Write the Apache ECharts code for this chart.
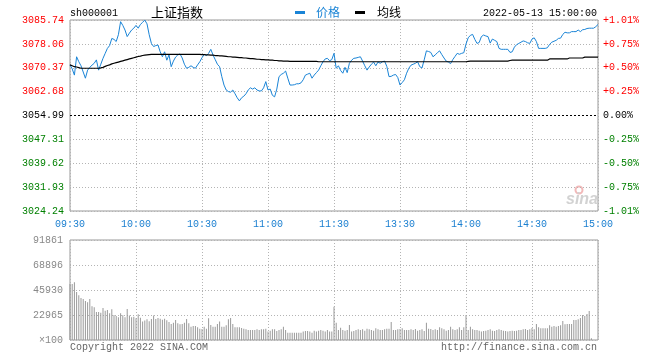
<!DOCTYPE html>
<html><head><meta charset="utf-8">
<script src="https://cdn.jsdelivr.net/npm/echarts@6/dist/echarts.min.js"></script>
<style>html,body{margin:0;padding:0;background:#fff}#c{width:660px;height:360px}</style>
</head><body><div id="c"></div>
<script>
const prevClose = 3054.99;
const priceMin = 3024.24, priceMax = 3085.74;
const volMax = 91861;
const priceTickLabels = ['3024.24','3031.93','3039.62','3047.31','3054.99','3062.68','3070.37','3078.06','3085.74'];
const pctTickLabels = ['-1.01%','-0.75%','-0.50%','-0.25%','0.00%','+0.25%','+0.50%','+0.75%','+1.01%'];
const volTickLabels = ['\u00d7100','22965','45930','68896','91861'];

const price = [
3071.3,3070.0,3068.0,3073.9,3072.3,3071.0,3069.0,3067.0,3069.6,3070.5,
3071.2,3071.8,3072.9,3069.6,3071.5,3073.4,3075.0,3076.6,3077.5,3079.8,
3079.5,3078.8,3081.0,3085.2,3084.0,3082.5,3080.4,3081.5,3082.5,3083.1,
3084.0,3083.1,3084.3,3085.0,3085.7,3084.5,3081.0,3078.2,3077.2,3077.5,
3077.7,3075.5,3073.9,3075.5,3072.8,3074.5,3070.7,3072.5,3073.8,3074.5,
3074.8,3073.5,3071.5,3070.2,3070.5,3071.0,3070.5,3070.2,3071.3,3072.3,
3073.6,3074.7,3074.3,3075.0,3076.3,3074.5,3073.0,3071.5,3070.7,3067.5,
3064.8,3063.2,3062.7,3062.5,3063.2,3062.0,3060.7,3059.7,3060.7,3061.2,
3062.0,3063.2,3063.9,3063.5,3063.9,3063.2,3062.9,3062.9,3063.9,3065.9,
3063.2,3063.5,3061.5,3061.0,3063.5,3067.5,3068.2,3068.6,3069.3,3067.0,
3064.8,3064.8,3064.9,3065.2,3065.2,3065.5,3066.5,3068.0,3068.3,3068.6,
3067.0,3068.0,3068.8,3069.6,3071.0,3072.3,3073.2,3073.4,3072.6,3073.0,
3075.0,3070.2,3071.0,3069.5,3068.6,3070.5,3068.8,3071.8,3072.8,3073.4,
3073.5,3073.7,3073.9,3072.5,3071.0,3069.6,3070.6,3071.5,3072.2,3071.0,
3072.2,3071.8,3072.3,3072.5,3070.8,3067.5,3067.6,3068.0,3068.2,3067.2,
3064.8,3065.6,3066.5,3068.6,3070.2,3071.2,3071.5,3071.8,3072.3,3070.7,
3070.3,3072.9,3075.8,3075.6,3075.3,3073.9,3074.5,3075.2,3075.8,3074.6,
3073.5,3072.5,3072.2,3071.7,3073.0,3074.0,3075.0,3074.7,3075.0,3075.2,
3078.0,3080.0,3080.8,3081.1,3079.5,3078.2,3078.5,3080.4,3080.9,3080.6,
3080.4,3078.3,3079.6,3079.2,3078.8,3076.6,3076.3,3076.3,3076.3,3076.3,
3075.3,3075.5,3077.0,3077.8,3078.2,3078.6,3079.0,3078.8,3078.4,3078.2,
3079.6,3080.0,3078.8,3076.6,3076.6,3076.6,3076.6,3076.8,3077.9,3078.6,
3078.9,3079.2,3079.8,3079.9,3081.1,3081.8,3081.6,3081.6,3082.0,3082.0,
3082.0,3082.5,3082.0,3082.6,3082.7,3083.0,3083.1,3083.1,3083.1,3083.6,
3084.3
];

const avgPrice = [
3071.3,3071.0,3070.7,3070.6,3070.4,3070.2,3070.2,3070.2,3070.2,3070.2,
3070.2,3070.2,3070.2,3070.2,3070.3,3070.5,3070.8,3071.1,3071.3,3071.6,
3071.8,3072.0,3072.2,3072.4,3072.6,3072.8,3073.0,3073.2,3073.4,3073.6,
3073.8,3074.0,3074.1,3074.3,3074.4,3074.5,3074.6,3074.7,3074.7,3074.7,
3074.7,3074.7,3074.7,3074.7,3074.7,3074.7,3074.7,3074.7,3074.7,3074.7,
3074.7,3074.7,3074.7,3074.7,3074.7,3074.7,3074.7,3074.7,3074.7,3074.7,
3074.6,3074.6,3074.5,3074.5,3074.4,3074.4,3074.3,3074.3,3074.2,3074.2,
3074.1,3074.0,3073.9,3073.9,3073.8,3073.8,3073.7,3073.6,3073.6,3073.5,
3073.5,3073.4,3073.3,3073.3,3073.2,3073.1,3073.1,3073.0,3073.0,3072.9,
3072.9,3072.8,3072.8,3072.7,3072.7,3072.6,3072.6,3072.5,3072.5,3072.5,
3072.4,3072.4,3072.4,3072.4,3072.4,3072.4,3072.4,3072.4,3072.4,3072.4,
3072.4,3072.4,3072.4,3072.3,3072.3,3072.3,3072.3,3072.3,3072.3,3072.3,
3072.3,3072.3,3072.3,3072.3,3072.3,3072.3,3072.3,3072.3,3072.3,3072.3,
3072.3,3072.3,3072.3,3072.3,3072.3,3072.3,3072.3,3072.3,3072.3,3072.3,
3072.3,3072.3,3072.3,3072.3,3072.3,3072.3,3072.3,3072.3,3072.3,3072.3,
3072.3,3072.3,3072.3,3072.3,3072.3,3072.3,3072.3,3072.3,3072.3,3072.3,
3072.3,3072.3,3072.3,3072.3,3072.3,3072.3,3072.3,3072.3,3072.3,3072.3,
3072.3,3072.3,3072.3,3072.3,3072.3,3072.3,3072.3,3072.3,3072.3,3072.3,
3072.3,3072.4,3072.5,3072.5,3072.5,3072.5,3072.5,3072.5,3072.5,3072.5,
3072.5,3072.5,3072.5,3072.5,3072.5,3072.5,3072.5,3072.5,3072.5,3072.5,
3072.7,3072.8,3072.8,3072.8,3072.8,3072.8,3072.8,3072.8,3072.8,3072.8,
3072.8,3072.8,3072.8,3072.8,3072.8,3072.8,3072.8,3072.8,3073.2,3073.2,
3073.2,3073.2,3073.2,3073.2,3073.2,3073.2,3073.2,3073.5,3073.5,3073.5,
3073.5,3073.5,3073.5,3073.5,3073.8,3073.8,3073.8,3073.8,3073.8,3073.8,
3073.8
];

const volume = [
51400,51400,53000,44100,41000,38600,37700,35800,34600,37700,
30900,30000,25700,25700,25100,29400,26900,27600,24500,28200,
23000,22000,20800,24500,22700,20800,28500,22400,20800,21400,
19900,23600,20500,16900,17800,19000,17200,19300,22400,19300,
20200,19600,18700,19600,18100,16500,14700,15900,18400,15300,
14400,14700,15900,19300,15300,12200,12900,12900,11600,10400,
10100,12200,10400,19900,13800,12200,12200,14700,17100,12200,
12200,13500,19000,20200,14700,11600,11600,11600,11000,10400,
9800,9200,9200,9200,9200,9800,9200,9800,9800,10400,
7700,8600,9800,9800,8300,9200,9800,12200,9200,6700,
6700,6700,6700,6700,6700,6700,7700,8300,8300,7700,
6700,8600,7700,8600,9200,8600,7700,9200,7700,7700,
30600,15900,9200,11300,9200,8600,9200,13800,7700,8300,
9200,9800,9200,9800,8600,10400,9800,9200,8600,10700,
9800,9200,9200,9800,10400,10400,16500,9200,9200,9800,
10100,10700,9200,9200,9200,9800,9200,10100,8600,9200,
9800,8300,15900,10400,10100,9200,9800,9200,11600,10700,
9800,8600,9200,12200,9800,9200,9800,11600,9200,11600,
23000,9200,12200,9800,9200,9200,8600,7700,8300,8600,
9200,9800,8600,8300,9200,9800,9200,8600,8300,7700,
8300,8600,8300,8600,9200,9200,9800,10100,9200,9800,
11000,9800,14700,11600,10700,10700,10700,10700,13500,12200,
12900,12200,12900,13500,17500,14400,14700,14700,14700,18400,
18400,19000,20200,23000,22000,23900,26600,1500,0,0,
0
];

// minute categories: 09:30-11:30, 13:01-15:00
const times = [];
function pad(n){return (n<10?'0':'')+n;}
for (let m=9*60+30; m<=11*60+30; m++) times.push(pad(Math.floor(m/60))+':'+pad(m%60));
for (let m=13*60+1; m<=15*60; m++) times.push(pad(Math.floor(m/60))+':'+pad(m%60));

const MONO = "'Liberation Mono','DejaVu Sans Mono',monospace";
const CJK = "'Noto Sans CJK SC','Noto Sans',sans-serif";
const GRID_C = '#b4b4b4';
const DOT = [1,2];
const every30 = (i) => i % 30 === 0;
const levelColor = (v) => { v = Math.round(+v); return v < 4 ? '#008000' : (v > 4 ? '#ff0000' : '#000000'); };

const chart = echarts.init(document.getElementById('c'), null, {renderer:'canvas'});
chart.setOption({
  animation: false,
  backgroundColor: '#ffffff',
  grid: [
    {left:70, top:20, width:528, height:191, show:true, borderColor:'#999', borderWidth:1, outerBoundsMode:'none', containLabel:false},
    {left:70, top:240, width:528, height:100, show:true, borderColor:'#999', borderWidth:1, outerBoundsMode:'none', containLabel:false}
  ],
  xAxis: [
    {gridIndex:0, type:'category', data:times, boundaryGap:false,
     axisLine:{show:false}, axisTick:{show:false},
     axisLabel:{interval:every30, color:'#1a7fd0', fontFamily:MONO, fontSize:10, margin:8, hideOverlap:false, showMinLabel:true, showMaxLabel:true},
     splitLine:{show:true, interval:every30, lineStyle:{color:GRID_C, type:DOT, width:1}}},
    {gridIndex:1, type:'category', data:times, boundaryGap:false,
     axisLine:{show:false}, axisTick:{show:false}, axisLabel:{show:false},
     splitLine:{show:true, interval:every30, lineStyle:{color:GRID_C, type:DOT, width:1}}}
  ],
  yAxis: [
    {gridIndex:0, type:'value', min:priceMin, max:priceMax, show:false, splitLine:{show:false}},
    {gridIndex:0, type:'value', min:0, max:8, interval:1, position:'left',
     axisLine:{show:false}, axisTick:{show:false},
     axisLabel:{formatter:(v)=>priceTickLabels[Math.round(v)], color:levelColor, fontFamily:MONO, fontSize:10, margin:6},
     splitLine:{show:true, lineStyle:{color:[GRID_C,GRID_C,GRID_C,GRID_C,'rgba(0,0,0,0)',GRID_C,GRID_C,GRID_C,GRID_C], type:DOT, width:1}}},
    {gridIndex:0, type:'value', min:0, max:8, interval:1, position:'right',
     axisLine:{show:false}, axisTick:{show:false},
     axisLabel:{formatter:(v)=>pctTickLabels[Math.round(v)], color:levelColor, fontFamily:MONO, fontSize:10, margin:5},
     splitLine:{show:false}},
    {gridIndex:1, type:'value', min:0, max:volMax, show:false, splitLine:{show:false}},
    {gridIndex:1, type:'value', min:0, max:4, interval:1, position:'left',
     axisLine:{show:false}, axisTick:{show:false},
     axisLabel:{formatter:(v)=>volTickLabels[Math.round(v)], color:'#888', fontFamily:MONO, fontSize:10, margin:7},
     splitLine:{show:true, lineStyle:{color:GRID_C, type:DOT, width:1}}}
  ],
  series: [
    {name:'价格', type:'line', xAxisIndex:0, yAxisIndex:0, data:price, showSymbol:false, symbol:'none',
     lineStyle:{color:'#1a84d6', width:1}, itemStyle:{color:'#1a84d6'}, z:3,
     markLine:{silent:true, symbol:['none','none'], label:{show:false}, data:[{yAxis:prevClose}],
               lineStyle:{color:'#000', type:[2,2], width:1}, animation:false}},
    {name:'均线', type:'line', xAxisIndex:0, yAxisIndex:0, data:avgPrice, showSymbol:false, symbol:'none',
     lineStyle:{color:'#000', width:1.2}, itemStyle:{color:'#000'}, z:4},
    {name:'成交量', type:'bar', xAxisIndex:1, yAxisIndex:3, data:volume, barWidth:1,
     itemStyle:{color:'#999'}, z:3}
  ],
  graphic: [
    {type:'text', x:70, y:13, style:{text:'sh000001', font:'10px '+MONO, fill:'#000', verticalAlign:'middle'}},
    {type:'text', x:151, y:12.5, style:{text:'上证指数', font:'13px '+CJK, fill:'#000', verticalAlign:'middle'}},
    {type:'rect', shape:{x:295, y:11, width:10, height:3}, style:{fill:'#1a84d6'}},
    {type:'text', x:316, y:12.5, style:{text:'价格', font:'12px '+CJK, fill:'#1a84d6', verticalAlign:'middle'}},
    {type:'rect', shape:{x:355, y:11, width:10, height:3}, style:{fill:'#000'}},
    {type:'text', x:377, y:12.5, style:{text:'均线', font:'12px '+CJK, fill:'#000', verticalAlign:'middle'}},
    {type:'text', x:597, y:13, style:{text:'2022-05-13 15:00:00', font:'10px '+MONO, fill:'#000', align:'right', verticalAlign:'middle'}},
    {type:'text', x:70, y:347, style:{text:'Copyright 2022 SINA.COM', font:'10px '+MONO, fill:'#666', verticalAlign:'middle'}},
    {type:'text', x:597, y:347, style:{text:'http://finance.sina.com.cn', font:'10px '+MONO, fill:'#666', align:'right', verticalAlign:'middle'}},
    {type:'circle', shape:{cx:579, cy:190, r:3.5}, style:{fill:'none', stroke:'#f2b8b8', lineWidth:2}},
    {type:'text', x:566, y:200, style:{text:'sina', font:'italic bold 16px Arial, sans-serif', fill:'#d2d2d2', verticalAlign:'middle'}}
  ]
});
</script>
</body></html>
